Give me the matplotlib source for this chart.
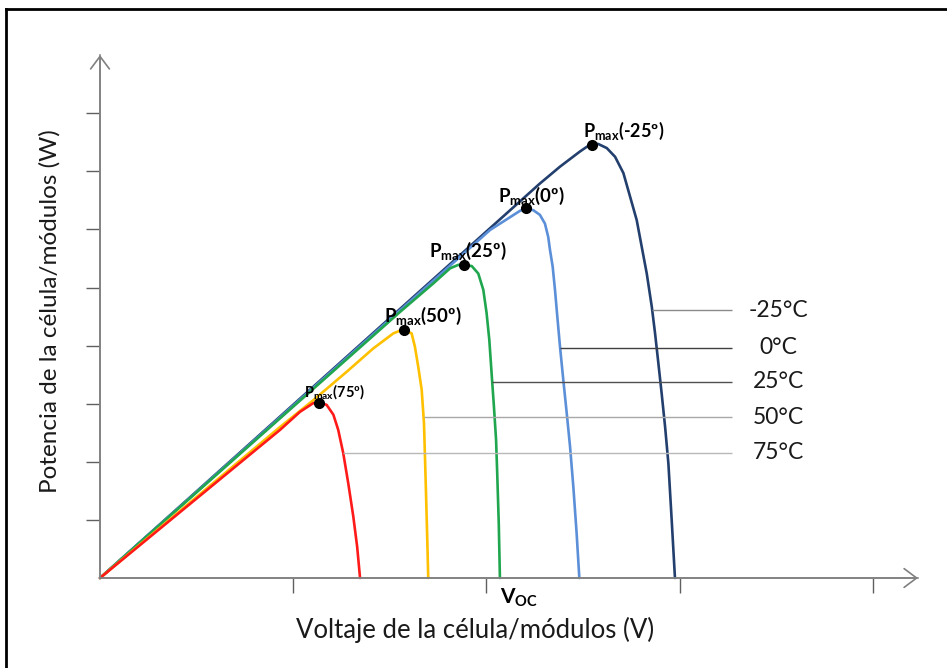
import numpy as np
import matplotlib.pyplot as plt
from matplotlib.lines import Line2D

plt.rcParams['font.family'] = ['Lato', 'DejaVu Sans']
plt.rcParams['mathtext.fontset'] = 'custom'
plt.rcParams['mathtext.rm'] = 'Lato'
plt.rcParams['mathtext.bf'] = 'Lato:bold'

temps = ["-25", "0", "25", "50", "75"]

# P-V curves (x: voltage ticks, y: power ticks)
v_m25 = [0, 2.277, 2.381, 2.484, 2.519, 2.548, 2.579, 2.623, 2.666, 2.709, 2.744, 2.778,
         2.804, 2.830, 2.856, 2.873, 2.890, 2.907, 2.925, 2.942, 2.959, 2.976]
p_m25 = [0, 6.79, 7.08, 7.34, 7.42, 7.47, 7.47, 7.40, 7.25, 6.97, 6.56, 6.16,
         5.70, 5.24, 4.67, 4.21, 3.70, 3.18, 2.60, 1.97, 1.00, 0]

v_0 = [0, 2.019, 2.174, 2.205, 2.243, 2.277, 2.303, 2.320, 2.329, 2.343, 2.355, 2.367,
       2.381, 2.398, 2.416, 2.433, 2.450, 2.467, 2.481]
p_0 = [0, 5.99, 6.32, 6.36, 6.33, 6.25, 6.10, 5.87, 5.65, 5.36, 4.96, 4.50,
       3.98, 3.41, 2.83, 2.26, 1.57, 0.77, 0]

v_25 = [0, 1.553, 1.725, 1.812, 1.855, 1.884, 1.924, 1.958, 1.984, 2.001, 2.015, 2.027,
        2.039, 2.050, 2.056, 2.064, 2.070]
p_25 = [0, 4.58, 5.07, 5.33, 5.39, 5.38, 5.37, 5.24, 4.96, 4.56, 4.10, 3.52,
        2.95, 2.38, 1.80, 0.94, 0]

v_50 = [0, 0.932, 1.104, 1.277, 1.414, 1.518, 1.570, 1.613, 1.630, 1.647, 1.665, 1.677,
        1.682, 1.687, 1.694, 1.699]
p_50 = [0, 2.60, 3.06, 3.55, 3.95, 4.21, 4.28, 4.21, 3.98, 3.64, 3.24, 2.66,
        2.09, 1.51, 0.65, 0]

v_75 = [0, 0.932, 1.035, 1.104, 1.135, 1.173, 1.208, 1.233, 1.259, 1.285, 1.311, 1.331, 1.346]
p_75 = [0, 2.55, 2.86, 3.01, 3.02, 2.98, 2.81, 2.55, 2.15, 1.63, 1.06, 0.54, 0]

pmax_v = [2.548, 2.205, 1.884, 1.573, 1.135]
pmax_p = [7.46, 6.36, 5.38, 4.27, 3.02]

label_levels = [4.61, 3.96, 3.38, 2.77, 2.16]
x_ticks = [1, 2, 3, 4]
y_ticks = [1, 2, 3, 4, 5, 6, 7, 8]

curves = [(v_m25, p_m25), (v_0, p_0), (v_25, p_25), (v_50, p_50), (v_75, p_75)]
colors = ['#233f6e', '#5b8fd8', '#1fa64e', '#ffc000', '#ff1a1a']
leader_colors = ['#8a8a8a', '#404040', '#505050', '#a8a8a8', '#b8b8b8']
label_sizes = [13, 13.5, 13.5, 13.5, 10.5]
label_offsets = [(-6.5, 9.5), (-20, 9.5), (-25, 10.5), (-14.5, 10.5), (-11, 7.5)]

fig = plt.figure(figsize=(9.47, 6.68), dpi=100)
ax = fig.add_axes([100 / 947, 90 / 668, 818 / 947, 523 / 668])
xmax, ymax = 818 / 193.2, 523 / 58.1
ax.set_xlim(0, xmax)
ax.set_ylim(0, ymax)

for s in ['top', 'right']:
    ax.spines[s].set_visible(False)
for s in ['left', 'bottom']:
    ax.spines[s].set_color('#8c8c8c')
    ax.spines[s].set_linewidth(1.2)
ax.set_xticks(x_ticks)
ax.set_yticks(y_ticks)
ax.set_xticklabels([])
ax.set_yticklabels([])
ax.tick_params(axis='x', direction='out', length=11, width=1, color='#606060')
ax.tick_params(axis='y', direction='out', length=10, width=1, color='#606060')

arrow = dict(arrowstyle='->,head_length=0.6,head_width=0.45', color='#808080', lw=1.2,
             mutation_scale=15, shrinkA=0, shrinkB=0)
ax.annotate('', xy=(xmax, 0), xytext=(0, 0), arrowprops=arrow, annotation_clip=False)
ax.annotate('', xy=(0, ymax), xytext=(0, 0), arrowprops=arrow, annotation_clip=False)

for (v, p), c in zip(curves, colors):
    ax.plot(v, p, color=c, lw=1.9, clip_on=False, solid_capstyle='round')

# leader lines from the falling branch to the temperature labels
for (v, p), t, lvl, lc in zip(curves, temps, label_levels, leader_colors):
    k = int(np.argmax(p))
    x0 = np.interp(lvl, p[k:][::-1], v[k:][::-1])
    ax.hlines(lvl, x0, 3.27, color=lc, lw=1)
    ax.text(3.51, lvl, f"{t}°C", ha='center', va='center', fontsize=16.5, color='#1a1a1a')

ax.plot(pmax_v, pmax_p, 'o', color='black', ms=7, zorder=5)
for pv, pp, t, fs, off in zip(pmax_v, pmax_p, temps, label_sizes, label_offsets):
    ax.annotate(r'$\mathbf{P}_{\mathbf{max}}$' + f'({t}º)', xy=(pv, pp), xytext=off,
                textcoords='offset points', ha='left', va='center',
                fontsize=fs, fontweight='bold')

ax.annotate(r'$\mathbf{V}_{\mathbf{OC}}$', xy=(v_25[-1], 0), xytext=(0, -14),
            textcoords='offset points', ha='left', va='center', fontsize=15,
            annotation_clip=False)

fig.text(475 / 947, 1 - 630 / 668, "Voltaje de la célula/módulos (V)",
         ha='center', va='center', fontsize=18.5, color='#1a1a1a')
fig.text(50 / 947, 1 - 311 / 668, "Potencia de la célula/módulos (W)",
         ha='center', va='center', rotation=90, fontsize=17.5, color='#1a1a1a')

# outer frame (top and left edges only visible)
fig.add_artist(Line2D([6 / 947, 1.0], [1 - 9 / 668] * 2, color='black', lw=2,
                      transform=fig.transFigure))
fig.add_artist(Line2D([6 / 947] * 2, [0, 1 - 9 / 668], color='black', lw=2,
                      transform=fig.transFigure))

fig.savefig('out.png', dpi=100)
